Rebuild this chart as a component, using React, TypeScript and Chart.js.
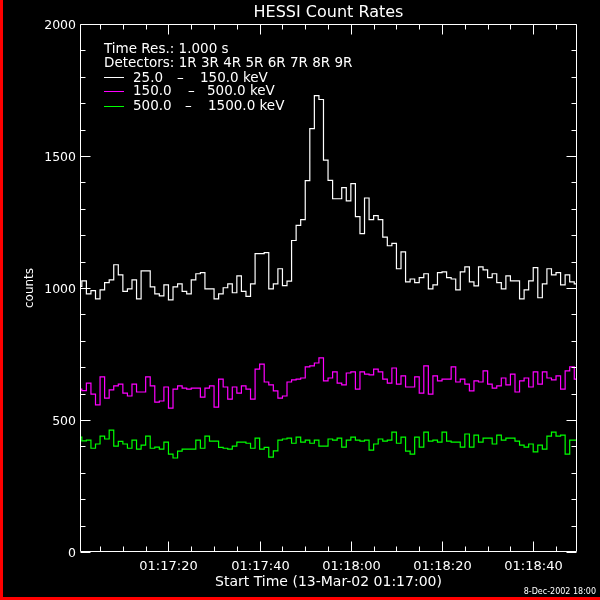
import React, { useEffect, useRef } from "react";
import { Chart, registerables } from "chart.js";

Chart.register(...registerables);

// 1-second bins starting at 01:17:00 (bin k covers k..k+1 s)
const lowBand = [
  1006, 1027, 978, 990, 959, 993, 1020, 1031, 1088, 1050,
  987, 997, 1031, 959, 1065, 1065, 1004, 978, 970, 1012,
  955, 1004, 1016, 987, 978, 1031, 1054, 1058, 997, 997,
  959, 978, 1001, 1016, 982, 1046, 987, 968, 1016, 1130,
  1130, 1134, 997, 1016, 1073, 1009, 1026, 1180, 1237, 1259,
  1407, 1604, 1729, 1714, 1484, 1408, 1338, 1338, 1380, 1330,
  1395, 1270, 1206, 1341, 1259, 1274, 1259, 1193, 1160, 1169,
  1073, 1137, 1023, 1034, 1020, 1039, 1054, 997, 1012, 1058,
  1061, 1039, 1034, 993, 1061, 1080, 1023, 1008, 1080, 1069,
  1039, 1054, 1020, 997, 1046, 1027, 1027, 959, 993, 1027,
  1077, 963, 1016, 1073, 1050, 1058, 1012, 1050, 1023, 1016,
];

const midBand = [
  617, 611, 640, 598, 557, 663, 583, 614, 629, 636,
  602, 591, 636, 606, 606, 663, 629, 568, 572, 625,
  545, 617, 629, 621, 617, 621, 621, 587, 621, 629,
  549, 655, 625, 579, 625, 602, 629, 617, 579, 693,
  712, 644, 633, 610, 583, 591, 644, 652, 655, 659,
  701, 705, 716, 735, 648, 659, 682, 640, 633, 678,
  682, 617, 682, 674, 671, 693, 682, 655, 640, 697,
  636, 667, 625, 625, 663, 602, 705, 598, 667, 648,
  655, 655, 701, 644, 655, 636, 610, 648, 644, 686,
  636, 621, 629, 659, 633, 674, 606, 648, 659, 625,
  682, 636, 682, 659, 652, 667, 617, 686, 701, 655,
];

const highBand = [
  435, 421, 424, 393, 409, 439, 428, 462, 401, 419,
  409, 393, 424, 390, 405, 439, 393, 397, 390, 416,
  371, 356, 382, 390, 390, 390, 424, 393, 439, 420,
  420, 396, 393, 390, 401, 416, 416, 412, 393, 431,
  390, 396, 359, 383, 424, 428, 431, 412, 435, 416,
  424, 412, 424, 401, 401, 428, 424, 431, 397, 424,
  435, 424, 420, 424, 386, 409, 428, 420, 424, 454,
  412, 435, 382, 371, 435, 397, 454, 420, 424, 416,
  454, 420, 416, 416, 397, 447, 397, 443, 416, 431,
  431, 409, 443, 424, 431, 431, 420, 405, 397, 409,
  379, 405, 390, 439, 454, 439, 443, 371, 424, 424,
];

const bandNames = ["25.0", "150.0", "500.0"];
const bandHighs = ["150.0", "500.0", "1500.0"];
const bandColors = ["#ffffff", "#ff00ff", "#00ff00"];

const xMajorSeconds = [20, 40, 60, 80, 100];
const xMajorLabels = ["01:17:20", "01:17:40", "01:18:00", "01:18:20", "01:18:40"];
const xMinorSeconds = [5, 10, 15, 25, 30, 35, 45, 50, 55, 65, 70, 75, 85, 90, 95, 105];
const yMajorValues = [0, 500, 1000, 1500, 2000];
const yMajorLabels = ["0", "500", "1000", "1500", "2000"];
const yMinorValues = [
  100, 200, 300, 400, 600, 700, 800, 900, 1100, 1200, 1300, 1400, 1600, 1700, 1800, 1900,
];

const FONT = "'DejaVu Sans', sans-serif";

const toPoints = (arr: number[]) => arr.map((v, k) => ({ x: k + 0.5, y: v }));

const idlPlugin = {
  id: "idlFrame",
  beforeDraw(chart: any) {
    const ctx = chart.ctx;
    ctx.save();
    ctx.fillStyle = "#000000";
    ctx.fillRect(0, 0, chart.width, chart.height);
    ctx.fillStyle = "#ff0000";
    ctx.fillRect(0, 0, 3, chart.height);
    ctx.fillRect(0, chart.height - 3, chart.width, 3);
    ctx.restore();
  },
  afterDatasetsDraw(chart: any) {
    const ctx = chart.ctx;
    const a = chart.chartArea;
    const xs = chart.scales.x;
    const ys = chart.scales.y;
    ctx.save();
    ctx.strokeStyle = "#ffffff";
    ctx.fillStyle = "#ffffff";
    ctx.lineWidth = 1;
    const L = a.left + 0.5, R = a.right - 0.5, T = a.top + 0.5, B = a.bottom - 0.5;
    ctx.beginPath();
    ctx.rect(L, T, R - L, B - T);
    ctx.stroke();

    const line = (x1: number, y1: number, x2: number, y2: number) => {
      ctx.beginPath();
      ctx.moveTo(x1, y1);
      ctx.lineTo(x2, y2);
      ctx.stroke();
    };
    const xTick = (s: number, len: number) => {
      const px = Math.round(xs.getPixelForValue(s)) + 0.5;
      line(px, B, px, B - len);
      line(px, T, px, T + len);
      return px;
    };
    const yTick = (v: number, len: number) => {
      const py = Math.round(ys.getPixelForValue(v)) + 0.5;
      line(L, py, L + len, py);
      line(R, py, R - len, py);
      return py;
    };
    xMinorSeconds.forEach((s) => xTick(s, 5));
    yMinorValues.forEach((v) => yTick(v, 5));

    ctx.font = `13px ${FONT}`;
    ctx.textAlign = "center";
    ctx.textBaseline = "alphabetic";
    xMajorSeconds.forEach((s, i) => {
      const px = xTick(s, 10);
      ctx.fillText(xMajorLabels[i], px, 570);
    });
    ctx.font = `12.5px ${FONT}`;
    ctx.textAlign = "right";
    ctx.textBaseline = "middle";
    yMajorValues.forEach((v, i) => {
      const py = yTick(v, 10);
      ctx.fillText(yMajorLabels[i], 76, py + 1);
    });

    // axis titles
    const cx = (a.left + a.right) / 2;
    const cy = (a.top + a.bottom) / 2;
    ctx.textAlign = "center";
    ctx.textBaseline = "alphabetic";
    ctx.font = `14px ${FONT}`;
    ctx.fillText("Start Time (13-Mar-02 01:17:00)", cx, 586);
    ctx.save();
    ctx.translate(33, cy);
    ctx.rotate(-Math.PI / 2);
    ctx.font = `12px ${FONT}`;
    ctx.fillText("counts", 0, 0);
    ctx.restore();

    // title
    ctx.font = `16px ${FONT}`;
    ctx.fillText("HESSI Count Rates", cx, 17);

    // legend
    ctx.textAlign = "left";
    ctx.font = `13.5px ${FONT}`;
    ctx.fillText("Time Res.: 1.000 s", 104, 53);
    ctx.fillText("Detectors: 1R 3R 4R 5R 6R 7R 8R 9R", 104, 67);
    const rows = [81.5, 95, 110];
    const dashX = [177, 188, 185];
    const hiX = [200, 207, 208];
    bandNames.forEach((name, i) => {
      const by = rows[i];
      ctx.strokeStyle = bandColors[i];
      line(104, Math.round(by - 4.5) + 0.5, 124, Math.round(by - 4.5) + 0.5);
      ctx.fillText(name, 133, by);
      ctx.fillText("\u2013", dashX[i], by);
      ctx.fillText(bandHighs[i] + " keV", hiX[i], by);
    });

    // date stamp
    ctx.textAlign = "right";
    ctx.font = `8px ${FONT}`;
    ctx.fillText("8-Dec-2002 18:00", 596, 594);
    ctx.restore();
  },
};

export default function App() {
  const ref = useRef<HTMLCanvasElement | null>(null);
  useEffect(() => {
    if (!ref.current) return;
    const chart = new Chart(ref.current, {
      type: "line",
      data: {
        datasets: [
          { data: toPoints(lowBand), borderColor: bandColors[0] },
          { data: toPoints(midBand), borderColor: bandColors[1] },
          { data: toPoints(highBand), borderColor: bandColors[2] },
        ].map((d) => ({
          ...d,
          stepped: "middle" as const,
          borderWidth: 1.2,
          pointRadius: 0,
          fill: false,
        })),
      },
      options: {
        responsive: false,
        animation: false,
        devicePixelRatio: 1,
        layout: { padding: { left: 80, right: 23, top: 24, bottom: 48 } },
        scales: {
          x: { type: "linear", min: 0.6, max: 109.6, display: false },
          y: { type: "linear", min: 0, max: 2000, display: false },
        },
        plugins: { legend: { display: false }, tooltip: { enabled: false }, title: { display: false } },
        events: [],
      },
      plugins: [idlPlugin],
    });
    return () => chart.destroy();
  }, []);
  return (
    <div style={{ position: "fixed", left: 0, top: 0, width: 600, height: 600, background: "#000" }}>
      <canvas ref={ref} width={600} height={600} style={{ display: "block" }} />
    </div>
  );
}
